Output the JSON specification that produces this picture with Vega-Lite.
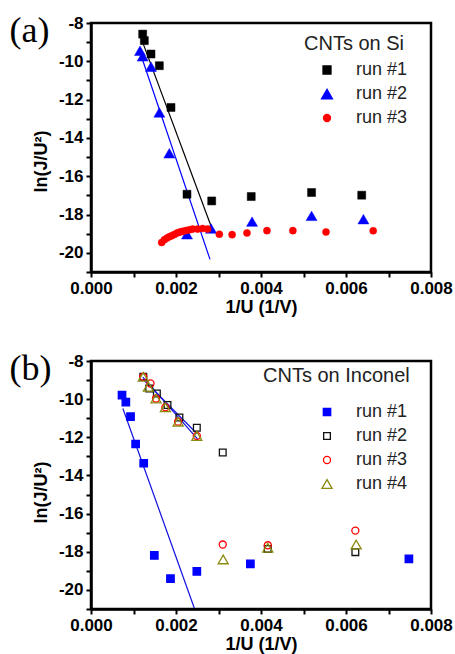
{
  "$schema": "https://vega.github.io/schema/vega-lite/v6.json",
  "padding": {"left": 8, "top": 11, "right": 2, "bottom": 0},
  "spacing": 31,
  "background": "white",
  "datasets": {
    "a": [
      {"series": "run #1", "x": 0.001216, "y": -8.58},
      {"series": "run #1", "x": 0.001255, "y": -8.92},
      {"series": "run #1", "x": 0.001412, "y": -9.62},
      {"series": "run #1", "x": 0.001608, "y": -10.23},
      {"series": "run #1", "x": 0.001882, "y": -12.41},
      {"series": "run #1", "x": 0.002259, "y": -16.94},
      {"series": "run #1", "x": 0.00284, "y": -17.29},
      {"series": "run #1", "x": 0.00377, "y": -17.06},
      {"series": "run #1", "x": 0.00519, "y": -16.85},
      {"series": "run #1", "x": 0.00637, "y": -16.99},
      {"series": "run #2", "x": 0.001153, "y": -9.45},
      {"series": "run #2", "x": 0.001216, "y": -9.74},
      {"series": "run #2", "x": 0.001412, "y": -10.28},
      {"series": "run #2", "x": 0.001608, "y": -12.67},
      {"series": "run #2", "x": 0.001843, "y": -14.8},
      {"series": "run #2", "x": 0.002259, "y": -19.03},
      {"series": "run #2", "x": 0.002824, "y": -18.73},
      {"series": "run #2", "x": 0.00379, "y": -18.37},
      {"series": "run #2", "x": 0.00519, "y": -18.07},
      {"series": "run #2", "x": 0.00641, "y": -18.24},
      {"series": "run #3", "x": 0.001663, "y": -19.46},
      {"series": "run #3", "x": 0.001725, "y": -19.32},
      {"series": "run #3", "x": 0.001788, "y": -19.23},
      {"series": "run #3", "x": 0.001843, "y": -19.16},
      {"series": "run #3", "x": 0.001898, "y": -19.11},
      {"series": "run #3", "x": 0.001961, "y": -19.04},
      {"series": "run #3", "x": 0.002024, "y": -18.97},
      {"series": "run #3", "x": 0.002086, "y": -18.92},
      {"series": "run #3", "x": 0.002157, "y": -18.88},
      {"series": "run #3", "x": 0.002235, "y": -18.83},
      {"series": "run #3", "x": 0.002314, "y": -18.8},
      {"series": "run #3", "x": 0.002392, "y": -18.76},
      {"series": "run #3", "x": 0.00251, "y": -18.76},
      {"series": "run #3", "x": 0.002627, "y": -18.73},
      {"series": "run #3", "x": 0.002745, "y": -18.76},
      {"series": "run #3", "x": 0.00302, "y": -19.03},
      {"series": "run #3", "x": 0.00332, "y": -19.05},
      {"series": "run #3", "x": 0.00367, "y": -18.96},
      {"series": "run #3", "x": 0.00414, "y": -18.84},
      {"series": "run #3", "x": 0.00475, "y": -18.84},
      {"series": "run #3", "x": 0.00553, "y": -18.91},
      {"series": "run #3", "x": 0.00664, "y": -18.85}
    ],
    "fitA": [
      {"fit": "run #1", "x": 0.001216, "y": -9.01},
      {"fit": "run #1", "x": 0.002824, "y": -18.6},
      {"fit": "run #2", "x": 0.001153, "y": -9.53},
      {"fit": "run #2", "x": 0.0028, "y": -20.34}
    ],
    "b": [
      {"series": "run #1", "x": 0.00073, "y": -9.79},
      {"series": "run #1", "x": 0.00082, "y": -10.16},
      {"series": "run #1", "x": 0.00093, "y": -10.92},
      {"series": "run #1", "x": 0.00105, "y": -12.35},
      {"series": "run #1", "x": 0.00124, "y": -13.36},
      {"series": "run #1", "x": 0.00149, "y": -18.19},
      {"series": "run #1", "x": 0.00187, "y": -19.41},
      {"series": "run #1", "x": 0.00249, "y": -19.03},
      {"series": "run #1", "x": 0.00375, "y": -18.63},
      {"series": "run #1", "x": 0.00748, "y": -18.37},
      {"series": "run #2", "x": 0.00123, "y": -8.83},
      {"series": "run #2", "x": 0.00137, "y": -9.44},
      {"series": "run #2", "x": 0.00155, "y": -9.7},
      {"series": "run #2", "x": 0.0018, "y": -10.31},
      {"series": "run #2", "x": 0.00208, "y": -10.96},
      {"series": "run #2", "x": 0.00249, "y": -11.5},
      {"series": "run #2", "x": 0.0031, "y": -12.8},
      {"series": "run #2", "x": 0.00416, "y": -17.85},
      {"series": "run #2", "x": 0.00622, "y": -18.02},
      {"series": "run #3", "x": 0.00123, "y": -8.83},
      {"series": "run #3", "x": 0.0014, "y": -9.18},
      {"series": "run #3", "x": 0.00153, "y": -9.97},
      {"series": "run #3", "x": 0.00175, "y": -10.43},
      {"series": "run #3", "x": 0.00205, "y": -11.18},
      {"series": "run #3", "x": 0.00249, "y": -11.93},
      {"series": "run #3", "x": 0.0031, "y": -17.62},
      {"series": "run #3", "x": 0.00416, "y": -17.66},
      {"series": "run #3", "x": 0.00622, "y": -16.89},
      {"series": "run #4", "x": 0.00123, "y": -8.83},
      {"series": "run #4", "x": 0.00135, "y": -9.35},
      {"series": "run #4", "x": 0.00153, "y": -9.97},
      {"series": "run #4", "x": 0.00175, "y": -10.43},
      {"series": "run #4", "x": 0.00205, "y": -11.18},
      {"series": "run #4", "x": 0.00249, "y": -11.93},
      {"series": "run #4", "x": 0.00311, "y": -18.4},
      {"series": "run #4", "x": 0.00416, "y": -17.79},
      {"series": "run #4", "x": 0.00624, "y": -17.62}
    ],
    "fitB": [
      {"fit": "run #1", "x": 0.00075, "y": -10.49},
      {"fit": "run #1", "x": 0.00243, "y": -20.95},
      {"fit": "run #2", "x": 0.00122, "y": -8.95},
      {"fit": "run #2", "x": 0.00249, "y": -11.8},
      {"fit": "run #4", "x": 0.00122, "y": -8.85},
      {"fit": "run #4", "x": 0.00251, "y": -12.1}
    ]
  },
  "config": {
    "font": "Liberation Sans",
    "view": {"stroke": "black", "strokeWidth": 2.5},
    "axis": {
      "domainColor": "black", "domainWidth": 2.5,
      "tickColor": "black", "tickWidth": 2, "tickSize": 5,
      "labelFont": "Liberation Sans", "labelFontWeight": "bold", "labelFontSize": 17, "labelColor": "black",
      "titleFont": "Liberation Sans", "titleFontWeight": "bold", "titleFontSize": 18, "titleColor": "black",
      "grid": false, "labelPadding": 3, "labelOverlap": false, "labelFlush": false
    },
    "legend": {
      "titleFont": "Liberation Sans", "titleFontSize": 20, "titleFontWeight": "normal", "titleColor": "#222",
      "labelFont": "Liberation Sans", "labelFontSize": 18, "labelColor": "#222",
      "rowPadding": 6, "labelOffset": 20, "symbolStrokeWidth": 1.3, "padding": 0,
      "orient": "none"
    },
    "title": {"font": "Liberation Serif", "fontSize": 36, "fontWeight": "normal", "color": "black", "anchor": "start", "frame": "bounds"}
  },
  "resolve": {"scale": {"fill": "independent", "stroke": "independent", "shape": "independent", "size": "independent"}, "legend": {"fill": "independent", "stroke": "independent", "shape": "independent", "size": "independent"}},
  "vconcat": [
    {
      "width": 340, "height": 249,
      "title": {"text": "(a)", "dx": -23, "dy": 40},
      "encoding": {
        "x": {"field": "x", "type": "quantitative", "scale": {"domain": [0, 0.008], "nice": false, "zero": false},
          "axis": {"title": "1/U (1/V)", "values": [0, 0.001, 0.002, 0.003, 0.004, 0.005, 0.006, 0.007, 0.008],
            "labelExpr": "round(datum.value*1000)%2==0 ? format(datum.value,'.3f') : ''", "titlePadding": 2}},
        "y": {"field": "y", "type": "quantitative", "scale": {"domain": [-21, -8], "nice": false, "zero": false},
          "axis": {"title": "ln(J/U²)", "titleY": 138, "values": [-21, -20, -19, -18, -17, -16, -15, -14, -13, -12, -11, -10, -9, -8],
            "labelExpr": "datum.value%2==0 ? ('-' + abs(datum.value)) : ''", "titlePadding": 8}}
      },
      "layer": [
        {"data": {"name": "fitA"}, "transform": [{"filter": "datum.fit == 'run #1'"}], "mark": {"type": "line", "color": "black", "strokeWidth": 1.2}},
        {"data": {"name": "fitA"}, "transform": [{"filter": "datum.fit == 'run #2'"}], "mark": {"type": "line", "color": "#0000ff", "strokeWidth": 1.2}},
        {"data": {"name": "a"}, "mark": {"type": "point", "opacity": 1, "strokeWidth": 0.5},
          "encoding": {
            "shape": {"field": "series", "type": "nominal", "scale": {"domain": ["run #1", "run #2", "run #3"], "range": ["square", "triangle-up", "circle"]}, "legend": {"title": "CNTs on Si", "titlePadding": 7, "legendX": 213, "legendY": 11, "symbolOffset": 14}},
            "fill": {"field": "series", "type": "nominal", "scale": {"domain": ["run #1", "run #2", "run #3"], "range": ["#000000", "#0000ff", "#ff0000"]}, "legend": {"title": "CNTs on Si", "titlePadding": 7, "legendX": 213, "legendY": 11, "symbolOffset": 14}},
            "stroke": {"field": "series", "type": "nominal", "scale": {"domain": ["run #1", "run #2", "run #3"], "range": ["#000000", "#0000ff", "#ff0000"]}, "legend": {"title": "CNTs on Si", "titlePadding": 7, "legendX": 213, "legendY": 11, "symbolOffset": 14}},
            "size": {"field": "series", "type": "nominal", "scale": {"type": "ordinal", "domain": ["run #1", "run #2", "run #3"], "range": [64, 120, 50]}, "legend": {"title": "CNTs on Si", "titlePadding": 7, "legendX": 213, "legendY": 11, "symbolOffset": 14}}
          }}
      ]
    },
    {
      "width": 340, "height": 248,
      "title": {"text": "(b)", "dx": -23, "dy": 40},
      "encoding": {
        "x": {"field": "x", "type": "quantitative", "scale": {"domain": [0, 0.008], "nice": false, "zero": false},
          "axis": {"title": "1/U (1/V)", "values": [0, 0.001, 0.002, 0.003, 0.004, 0.005, 0.006, 0.007, 0.008],
            "labelExpr": "round(datum.value*1000)%2==0 ? format(datum.value,'.3f') : ''", "titlePadding": 2}},
        "y": {"field": "y", "type": "quantitative", "scale": {"domain": [-21, -8], "nice": false, "zero": false},
          "axis": {"title": "ln(J/U²)", "titleY": 131, "values": [-21, -20, -19, -18, -17, -16, -15, -14, -13, -12, -11, -10, -9, -8],
            "labelExpr": "datum.value%2==0 ? ('-' + abs(datum.value)) : ''", "titlePadding": 8}}
      },
      "layer": [
        {"data": {"name": "fitB"}, "transform": [{"filter": "datum.fit == 'run #1'"}], "mark": {"type": "line", "color": "#1010e0", "strokeWidth": 1.2}},
        {"data": {"name": "fitB"}, "transform": [{"filter": "datum.fit == 'run #2'"}], "mark": {"type": "line", "color": "#1010e0", "strokeWidth": 1.2}},
        {"data": {"name": "fitB"}, "transform": [{"filter": "datum.fit == 'run #4'"}], "mark": {"type": "line", "color": "#1010e0", "strokeWidth": 1.2}},
        {"data": {"name": "b"}, "mark": {"type": "point", "opacity": 1, "strokeWidth": 1.3},
          "encoding": {
            "shape": {"field": "series", "type": "nominal", "scale": {"domain": ["run #1", "run #2", "run #3", "run #4"], "range": ["square", "square", "circle", "triangle-up"]}, "legend": {"title": "CNTs on Inconel", "titlePadding": 17, "legendX": 172, "legendY": 5, "symbolOffset": 55}},
            "fill": {"field": "series", "type": "nominal", "scale": {"domain": ["run #1", "run #2", "run #3", "run #4"], "range": ["#0000ff", "transparent", "transparent", "transparent"]}, "legend": {"title": "CNTs on Inconel", "titlePadding": 17, "legendX": 172, "legendY": 5, "symbolOffset": 55}},
            "stroke": {"field": "series", "type": "nominal", "scale": {"domain": ["run #1", "run #2", "run #3", "run #4"], "range": ["#0000ff", "#111111", "#ff0000", "#8b8b10"]}, "legend": {"title": "CNTs on Inconel", "titlePadding": 17, "legendX": 172, "legendY": 5, "symbolOffset": 55}},
            "size": {"field": "series", "type": "nominal", "scale": {"type": "ordinal", "domain": ["run #1", "run #2", "run #3", "run #4"], "range": [55, 45, 50, 100]}, "legend": {"title": "CNTs on Inconel", "titlePadding": 17, "legendX": 172, "legendY": 5, "symbolOffset": 55}}
          }}
      ]
    }
  ]
}
